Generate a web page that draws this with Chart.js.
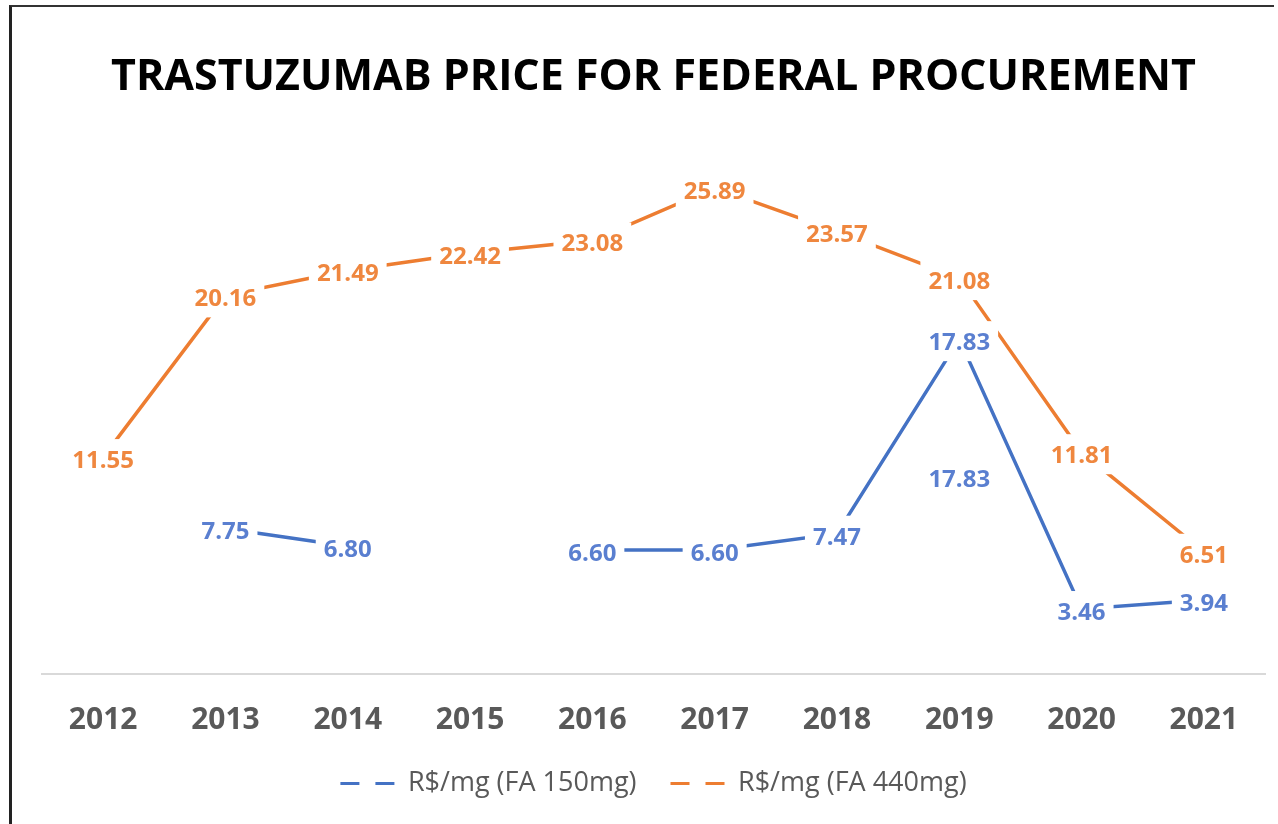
<!DOCTYPE html>
<html><head><meta charset="utf-8">
<script src="https://cdn.jsdelivr.net/npm/chart.js@4/dist/chart.umd.min.js"></script>
<style>
html,body{margin:0;padding:0;background:#fff;}
#wrap{position:relative;width:1278px;height:824px;overflow:hidden;background:#fff;}
#frame{position:absolute;left:9px;top:5px;width:1262px;height:840px;border-left:3px solid #222;border-top:2px solid #333;}
canvas{position:absolute;left:0;top:0;}
</style></head><body>
<div id="wrap"><div id="frame"></div><canvas id="c" width="1278" height="824" style="width:1278px;height:824px"></canvas></div>
<script>
const titleText = 'TRASTUZUMAB PRICE FOR FEDERAL PROCUREMENT';
const years = ['2012','2013','2014','2015','2016','2017','2018','2019','2020','2021'];
const fa150 = [null, 7.75, 6.80, null, 6.60, 6.60, 7.47, 17.83, 3.46, 3.94];
const fa440 = [11.55, 20.16, 21.49, 22.42, 23.08, 25.89, 23.57, 21.08, 11.81, 6.51];
const seriesNames = ['R$/mg (FA 150mg)', 'R$/mg (FA 440mg)'];
// stray duplicate data label present in the original chart (shown text / where it sits)
const strayLabelValue = [null, null, null, null, null, null, null, 10.55, null, null];
const strayLabelText = [null, null, null, null, null, null, null, '17.83', null, null];

const BLUE = '#4472C4', ORANGE = '#ED7D31';
const BLUE_LBL = '#5A7FD0', ORANGE_LBL = '#EF873F';

const labelPlugin = {
  id: 'boxLabels',
  afterDatasetsDraw(chart) {
    const ctx = chart.ctx;
    ctx.save();
    ctx.font = 'bold 24px "Open Sans"';
    ctx.textAlign = 'center';
    ctx.textBaseline = 'middle';
    const items = [];
    chart.data.datasets.forEach((ds, di) => {
      const meta = chart.getDatasetMeta(di);
      ds.data.forEach((v, i) => {
        if (v == null) return;
        const el = meta.data[i];
        const txt = ds.labelTexts ? ds.labelTexts[i] : v.toFixed(2);
        items.push({x: el.x, y: el.y + 2, txt, color: ds.labelColor});
      });
    });
    items.forEach(it => {
      const w = ctx.measureText(it.txt).width + 16;
      ctx.fillStyle = '#fff';
      ctx.fillRect(it.x - w / 2, it.y - 20, w, 40);
    });
    items.forEach(it => {
      ctx.fillStyle = it.color;
      ctx.fillText(it.txt, it.x, it.y + 2);
    });
    ctx.restore();
  }
};

new Chart(document.getElementById('c'), {
  type: 'line',
  data: {
    labels: years,
    datasets: [
      {label: seriesNames[0], data: fa150, borderColor: BLUE, backgroundColor: BLUE, borderWidth: 3.5,
       pointRadius: 0, spanGaps: false, labelColor: BLUE_LBL, tension: 0},
      {label: seriesNames[1], data: fa440, borderColor: ORANGE, backgroundColor: ORANGE, borderWidth: 3.5,
       pointRadius: 0, spanGaps: false, labelColor: ORANGE_LBL, tension: 0},
      {label: 'stray', data: strayLabelValue, showLine: false, pointRadius: 0, borderWidth: 0,
       labelTexts: strayLabelText, labelColor: BLUE_LBL}
    ]
  },
  options: {
    responsive: false,
    animation: false,
    layout: {padding: {left: 42, right: 13, top: 0, bottom: 17}},
    scales: {
      x: {
        offset: true,
        grid: {display: false, drawTicks: false, tickLength: 0},
        border: {display: true, color: '#d9d9d9', width: 2},
        ticks: {color: '#595959', font: {family: 'Open Sans', size: 30, weight: 'bold'}, padding: 28, maxRotation: 0},
        afterFit(scale) { scale.height = 62; }
      },
      y: {display: false, min: 0, max: 30}
    },
    plugins: {
      tooltip: {enabled: false},
      title: {
        display: true, text: titleText, color: '#000',
        font: {family: 'Open Sans', size: 43, weight: 'bold'},
        padding: {top: 52, bottom: 7}
      },
      legend: {
        position: 'bottom',
        labels: {
          usePointStyle: true, pointStyle: 'line', pointStyleWidth: 54,
          color: '#595959', font: {family: 'Open Sans', size: 27}, padding: 34,
          filter: (item) => item.datasetIndex < 2,
          generateLabels(chart) {
            const items = Chart.defaults.plugins.legend.labels.generateLabels(chart);
            items.forEach(it => { it.pointStyle = 'line'; it.lineDash = [19, 16]; it.lineWidth = 3; });
            return items;
          }
        }
      }
    }
  },
  plugins: [labelPlugin]
});
</script>
</body></html>
